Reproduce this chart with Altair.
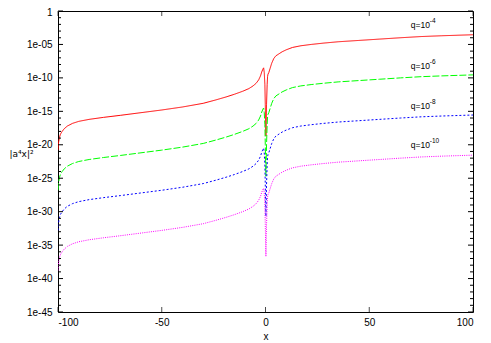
import altair as alt
import pandas as pd
import numpy as np

# sample x positions (shared by all four curves)
x_vals = [-100, -99.7, -99.3, -98.8, -98, -97, -95.5, -93, -90, -85, -78, -70, -60, -50,
          -40, -30, -24, -19, -15, -11, -8, -6, -4.5, -3.3, -2.4, -1.8, -1.4, -1.1, -0.9,
          -0.6, -0.3, -0.1, 0.2, 0.5, 0.8, 1.0, 1.2, 1.6, 2.2, 3, 4, 5, 6.5, 8, 10, 13, 17,
          22, 28, 35, 45, 55, 65, 75, 85, 100]

# log10 of |a^4 x|^2
red_exp = [-20.8, -19.6, -18.9, -18.4, -18.0, -17.6, -17.2, -16.8, -16.5, -16.2, -15.9, -15.6,
           -15.2, -14.8, -14.35, -13.8, -13.3, -12.85, -12.45, -12.0, -11.6, -11.2, -10.8,
           -10.3, -9.7, -9.1, -8.8, -8.6, -8.5, -9.2, -11.0, -14.0, -18.7, -14.0, -11.0, -9.8,
           -9.45, -9.2, -8.6, -7.8, -7.1, -6.7, -6.4, -6.1, -5.8, -5.45, -5.2, -5.0, -4.8,
           -4.6, -4.4, -4.2, -4.0, -3.82, -3.7, -3.55]
green_exp = [-26.8, -25.6, -24.9, -24.4, -24.0, -23.6, -23.2, -22.8, -22.5, -22.2, -21.9, -21.6,
             -21.2, -20.8, -20.35, -19.8, -19.3, -18.85, -18.45, -18.0, -17.6, -17.2, -16.8,
             -16.3, -15.7, -15.1, -14.8, -14.6, -14.5, -15.2, -17.0, -20.0, -24.7, -20.0, -17.0,
             -15.8, -15.45, -15.2, -14.6, -13.8, -13.1, -12.7, -12.4, -12.1, -11.8, -11.45,
             -11.2, -11.0, -10.8, -10.6, -10.4, -10.2, -10.0, -9.82, -9.7, -9.55]
blue_exp = [-32.8, -31.6, -30.9, -30.4, -30.0, -29.6, -29.2, -28.8, -28.5, -28.2, -27.9, -27.6,
            -27.2, -26.8, -26.35, -25.8, -25.3, -24.85, -24.45, -24.0, -23.6, -23.2, -22.8,
            -22.3, -21.7, -21.1, -20.8, -20.6, -20.5, -21.2, -23.0, -26.0, -30.7, -26.0, -23.0,
            -21.8, -21.45, -21.2, -20.6, -19.8, -19.1, -18.7, -18.4, -18.1, -17.8, -17.45,
            -17.2, -17.0, -16.8, -16.6, -16.4, -16.2, -16.0, -15.82, -15.7, -15.55]
pink_exp = [-38.8, -37.6, -36.9, -36.4, -36.0, -35.6, -35.2, -34.8, -34.5, -34.2, -33.9, -33.6,
            -33.2, -32.8, -32.35, -31.8, -31.3, -30.85, -30.45, -30.0, -29.6, -29.2, -28.8,
            -28.3, -27.7, -27.1, -26.8, -26.6, -26.5, -27.2, -29.0, -32.0, -36.7, -32.0, -29.0,
            -27.8, -27.45, -27.2, -26.6, -25.8, -25.1, -24.7, -24.4, -24.1, -23.8, -23.45,
            -23.2, -23.0, -22.8, -22.6, -22.4, -22.2, -22.0, -21.82, -21.7, -21.55]

series_colors = ["#ff0000", "#00ff00", "#0000ff", "#ff00ff"]
series_dash = [[1, 0], [7, 2], [2, 2], [1, 1.2]]

label_base = "q=10"
label_exps = ["-4", "-6", "-8", "-10"]
label_x = [70, 70, 70, 70]
label_y_exp = [-2.1, -8.2, -14.2, -20.1]

x_ticks = [-100, -50, 0, 50, 100]
y_decades = list(range(0, 46))  # one tick per decade, labels every 5

W, H = 415, 301
FONT = "Liberation Sans"

yscale = alt.Scale(type="log", domain=[1e-45, 1])
xscale = alt.Scale(domain=[-100, 100], nice=False, zero=False)

xaxis = alt.Axis(values=x_ticks, title="x", labelFont=FONT, labelFontSize=10,
                 labelExpr="'' + datum.value",
                 titleFont=FONT, titleFontSize=10, titleFontWeight="normal",
                 labelPadding=5, titleY=27, titleBaseline="alphabetic")
yaxis = alt.Axis(values=[10.0 ** -k for k in range(0, 46, 5)],
                 labelExpr="datum.value >= 0.5 ? '1' : '1e-' + (round(-log(datum.value)/LN10) < 10 ? '0' : '') + round(-log(datum.value)/LN10)",
                 labelOffset={"condition": {"test": "datum.value >= 0.5", "value": 1.5}, "value": 0},
                 title="|a⁴x|²", titleAngle=0, titleX=-37, titleY=142,
                 titleAlign="center", titleBaseline="middle",
                 titleFont="DejaVu Sans", titleFontSize=9, titleFontWeight="normal",
                 labelFont=FONT, labelFontSize=10, labelPadding=6)

X = alt.X("x:Q", scale=xscale, axis=xaxis)
Y = alt.Y("y:Q", scale=yscale, axis=yaxis)

curves = [red_exp, green_exp, blue_exp, pink_exp]
layers = []
for i, ex in enumerate(curves):
    df = pd.DataFrame({"x": x_vals, "y": 10.0 ** np.array(ex)})
    layers.append(
        alt.Chart(df).mark_line(color=series_colors[i], strokeWidth=1,
                                strokeDash=series_dash[i], clip=True).encode(x=X, y=Y)
    )

# inward tick marks (gnuplot style, mirrored on all sides)
ydf = pd.DataFrame({"y": [10.0 ** -k for k in y_decades],
                    "major": [k % 5 == 0 for k in y_decades]})
ymaj = ydf[ydf.major]
ymin = ydf[~ydf.major]
xdf = pd.DataFrame({"x": x_ticks})


def yticks(d, x0, x1):
    return alt.Chart(d).mark_rule(color="black", strokeWidth=1).encode(
        y=Y, x=alt.value(x0), x2=alt.value(x1))


def xticks(d, yc):
    return alt.Chart(d).mark_tick(color="black", strokeWidth=1, thickness=1,
                                  orient="vertical", size=5).encode(
        x=X, y=alt.value(yc))


tick_layers = [
    yticks(ymaj, 0, 5), yticks(ymaj, W - 5, W),
    yticks(ymin, 0, 3), yticks(ymin, W - 3, W),
    xticks(xdf, H - 2.5), xticks(xdf, 2.5),
]

ldf = pd.DataFrame({"x": label_x, "y": 10.0 ** np.array(label_y_exp),
                    "base": [label_base] * 4, "ex": label_exps})
lab_base = alt.Chart(ldf).mark_text(align="left", baseline="middle", font=FONT,
                                    fontSize=8.5, color="black").encode(
    x=X, y=Y, text="base:N")
lab_ex = alt.Chart(ldf).mark_text(align="left", baseline="middle", font=FONT,
                                  fontSize=6.5, color="black", dx=19, dy=-4).encode(
    x=X, y=Y, text="ex:N")

chart = alt.layer(*layers, *tick_layers, lab_base, lab_ex).properties(
    width=W, height=H,
    autosize=alt.AutoSizeParams(type="none"),
    padding={"left": 50, "top": 3, "right": 10, "bottom": 29},
).configure_view(stroke="black", strokeWidth=1).configure_axis(
    domain=False, grid=False, ticks=False, labelColor="black", titleColor="black"
)

chart.save("out.html", embed_options={"renderer": "svg", "actions": False})
